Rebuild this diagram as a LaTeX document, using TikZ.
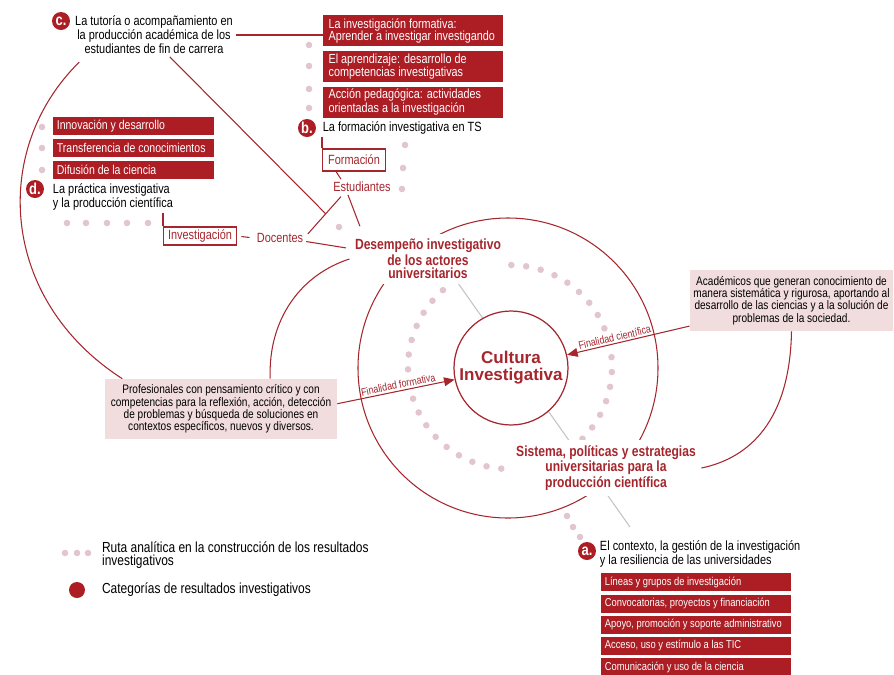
\documentclass[tikz,border=0pt]{standalone}
\usepackage{fontspec}
\setmainfont{Liberation Sans}[FakeStretch=0.82]
\newfontfamily\wideface{Liberation Sans}
\usetikzlibrary{positioning,arrows.meta,backgrounds}

\definecolor{boxred}{RGB}{172,29,36}
\definecolor{linered}{RGB}{165,38,45}
\definecolor{rosefill}{RGB}{242,221,222}
\definecolor{dotrose}{RGB}{226,198,207}
\definecolor{ashline}{RGB}{195,195,195}

\newcommand\txtfont{\fontsize{7.6}{7.9}\selectfont}
\newcommand\boxfont{\fontsize{7.5}{7}\selectfont}
\newcommand\notefont{\fontsize{7}{7.1}\selectfont}
\newcommand\headfont{\bfseries\fontsize{8.4}{7.8}\selectfont}
\newcommand\legfont{\fontsize{8.3}{7.6}\selectfont}
\newcommand\aimfont{\fontsize{6.2}{6.2}\selectfont}

\tikzset{
  conn/.style={draw=linered, line width=0.6pt},
  pointer/.style={-{Triangle[length=6pt,width=5pt]}},
  badge/.style={circle, fill=boxred, text=white, font=\bfseries\fontsize{9}{9}\selectfont, minimum size=0.36cm, inner sep=0pt},
  redbox/.style={fill=boxred, text=white, font=\boxfont, align=flush left, inner xsep=2pt, inner ysep=0pt, minimum height=0.36cm},
  actorbox/.style={draw=linered, line width=0.6pt, fill=white, text=linered, font=\txtfont, inner sep=1.5pt},
  actor/.style={text=linered, font=\txtfont, inner sep=1.5pt},
  headlab/.style={fill=white, text=linered, font=\headfont, align=center, inner sep=3pt},
  notebox/.style={fill=rosefill, font=\notefont, align=center, inner sep=2pt},
  plain/.style={font=\txtfont, inner sep=1.5pt}
}

\begin{document}
\begin{tikzpicture}[x=0.02cm, y=-0.02cm]
\useasboundingbox (0,0) rectangle (894,674);

% ---- ring of the analytic route
\def\ringx{510}
\def\ringy{367}
\def\ringr{102}

% b. formacion
\node[redbox, text width=96.4pt, inner xsep=3pt, minimum height=0.62cm, anchor=north west] (bbox1) at (323,15) {La investigación formativa:\\Aprender a investigar investigando};
\node[redbox, text width=96.4pt, inner xsep=3pt, minimum height=0.62cm, below=0.08cm of bbox1] (bbox2) {El aprendizaje: desarrollo de\\competencias investigativas};
\node[redbox, text width=96.4pt, inner xsep=3pt, minimum height=0.62cm, below=0.08cm of bbox2] (bbox3) {Acción pedagógica: actividades\\orientadas a la investigación};
\node[badge] (bdgb) at (307,128) {b.};
\node[plain, right=2pt of bdgb] (btext) {La formación investigativa en TS};

% c. tutoria
\node[badge] (bdgc) at (61,21) {c.};
\node[plain, align=center] (ctext) at (154,35) {La tutoría o acompañamiento en\\la producción académica de los\\estudiantes de fin de carrera};

% d. practica
\node[redbox, font=\fontsize{7.3}{7}\selectfont, text width=87.6pt, anchor=north west] (dbox1) at (53,117) {Innovación y desarrollo};
\node[redbox, font=\fontsize{7.3}{7}\selectfont, text width=87.6pt, below=0.06cm of dbox1] (dbox2) {Transferencia de conocimientos};
\node[redbox, font=\fontsize{7.3}{7}\selectfont, text width=87.6pt, below=0.06cm of dbox2] (dbox3) {Difusión de la ciencia};
\node[badge] (bdgd) at (35,189) {d.};
\node[plain, align=left, anchor=west] (dtext) at (50,197) {La práctica investigativa\\y la producción científica};

% a. contexto
\node[badge] (bdga) at (587,551) {a.};
\node[plain, font=\fontsize{7.6}{8.4}\selectfont, align=left, anchor=west] (atext) at (597,554) {El contexto, la gestión de la investigación\\y la resiliencia de las universidades};
\node[redbox, font=\fontsize{6.5}{7}\selectfont, text width=103.7pt, anchor=north west] (abox1) at (601,573) {Líneas y grupos de investigación};
\node[redbox, font=\fontsize{6.5}{7}\selectfont, text width=103.7pt, below=0.05cm of abox1] (abox2) {Convocatorias, proyectos y financiación};
\node[redbox, font=\fontsize{6.5}{7}\selectfont, text width=103.7pt, below=0.05cm of abox2] (abox3) {Apoyo, promoción y soporte administrativo};
\node[redbox, font=\fontsize{6.5}{7}\selectfont, text width=103.7pt, below=0.05cm of abox3] (abox4) {Acceso, uso y estímulo a las TIC};
\node[redbox, font=\fontsize{6.5}{7}\selectfont, text width=103.7pt, below=0.05cm of abox4] (abox5) {Comunicación y uso de la ciencia};

% actors
\node[actorbox, minimum width=1.26cm, minimum height=0.44cm] (formac) at (354,160) {Formación};
\node[actor] (estud) at (362,187) {Estudiantes};
\node[actor] (docent) at (280,238) {Docentes};
\node[actorbox, minimum width=1.46cm, minimum height=0.36cm] (invest) at (200,236) {Investigación};

% centre
\node[circle, draw=linered, line width=0.7pt, fill=white, minimum size=2.28cm, inner sep=0pt, text=linered, align=center,
      font=\wideface\bfseries\fontsize{9.7}{9.6}\selectfont] (cult) at (511,368) {Cultura\\Investigativa};
\node[headlab] (desemp) at (428,259) {Desempeño investigativo\\de los actores\\universitarios};
\node[headlab] (sistema) at (606,468) {Sistema, políticas y estrategias\\universitarias para la\\producción científica};

% purposes
\node[notebox, minimum width=4.64cm, minimum height=1.2cm] (profbox) at (221,409) {Profesionales con pensamiento crítico y con\\competencias para la reflexión, acción, detección\\de problemas y búsqueda de soluciones en\\contextos específicos, nuevos y diversos.};
\node[notebox, minimum width=4.06cm, minimum height=1.22cm] (academ) at (791.5,300.5) {Académicos que generan conocimiento de\\manera sistemática y rigurosa, aportando al\\desarrollo de las ciencias y a la solución de\\problemas de la sociedad.};

% links
\draw[conn] (ctext.east) -- (ctext.east -| bbox1.west);
\draw[conn] (formac.north west) -- (formac.north west |- btext.south);
\draw[conn] (invest.north west) -- (invest.north west |- dtext.south);
\draw[conn, shorten <=2.5pt, shorten >=2.5pt] (invest.east) -- (docent.west);
\draw[conn] ([xshift=8pt]formac.south west) -- ([xshift=6pt]estud.north west);
\draw[conn] ([xshift=6pt,yshift=-1pt]estud.south west) -- ([xshift=1pt,yshift=-2pt]docent.north east) coordinate[pos=0.46] (meet);
\draw[conn] ([xshift=10pt]estud.south west) -- ([xshift=6pt,yshift=4pt]desemp.north west);
\draw[conn, shorten >=2pt] ([yshift=-2pt]docent.east) -- ([yshift=6pt]desemp.west);
\draw[conn] ([xshift=9pt]ctext.south) -- (meet);
\draw[conn] ([xshift=4pt,yshift=-3pt]ctext.south west) .. controls (-10,150) and (0,300) .. ([xshift=10pt]profbox.north west);
\draw[conn] (desemp.west) .. controls (300,275) and (268,320) .. ([xshift=28pt]profbox.north);
\draw[conn] (academ.south) .. controls (790,420) and (750,458) .. (sistema.east);

% aims
\draw[conn, pointer] ([yshift=3pt]profbox.east) -- (cult)
  node[pos=0.53, sloped, above, font=\aimfont, text=linered, inner sep=1pt] (aimform) {Finalidad formativa};
\draw[conn, pointer] ([yshift=3pt]academ.south west) -- (cult);
\path (cult) -- ([yshift=3pt]academ.south west)
  node[pos=0.4, sloped, above, font=\aimfont, text=linered, inner sep=1pt] (aimsci) {Finalidad científica};

% legend
\foreach \x in {65,77,88} \fill[dotrose] (\x,553) circle (3.3);
\node[font=\legfont, align=left, anchor=west, inner sep=1pt] (legroute) at (100,555) {Ruta analítica en la construcción de los resultados\\investigativos};
\node[circle, fill=boxred, minimum size=0.32cm, inner sep=0pt] (legdot) at (77,590) {};
\node[font=\legfont, anchor=west, inner sep=1pt] (legcat) at (100,590) {Categorías de resultados investigativos};

\begin{pgfonlayer}{background}
  \draw[conn] (508,368) circle (150);
  \coordinate (gtop) at (453,276);
  \coordinate (gend) at (630,527);
  \draw[ashline, line width=0.6pt] (gtop) -- (gend);
  % dotted route
  \foreach \i in {0,...,42}{
    \pgfmathsetmacro{\ang}{106-\i*8.372}
    \pgfmathtruncatemacro{\hide}{(\i==11)+(\i==33)+(\i>18)*(\i<22)+(\i>40)}
    \ifnum\hide=0
      \fill[dotrose] ({\ringx+\ringr*cos(\ang)},{\ringy-\ringr*sin(\ang)}) circle (3.3);
    \fi
  }
  \foreach \y in {45,66,89,108} \fill[dotrose] (309,\y) circle (3.3);
  \foreach \y in {127,148,170} \fill[dotrose] (42,\y) circle (3.3);
  \foreach \x in {67,86,107,127,148} \fill[dotrose] (\x,223) circle (3.3);
  \foreach \p in {(405,145),(403,168),(402,189),(339,227),(567,516),(573,527),(580,537)}
    \fill[dotrose] \p circle (3.3);
\end{pgfonlayer}
\end{tikzpicture}
\end{document}
